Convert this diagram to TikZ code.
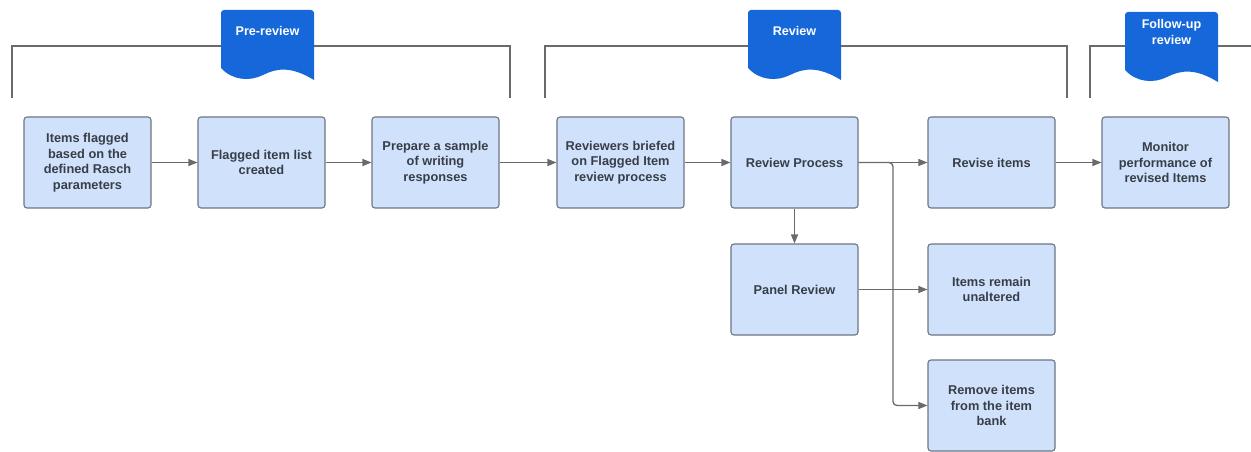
\documentclass[tikz,border=0pt]{standalone}
\usepackage{fontspec}
\setmainfont{Liberation Sans}
\usetikzlibrary{arrows.meta}
\definecolor{boxfill}{HTML}{D0E2FB}
\definecolor{boxdraw}{HTML}{6C7683}
\definecolor{txtcol}{HTML}{383E48}
\definecolor{bannerblue}{HTML}{1667D9}
\definecolor{linecol}{HTML}{6A6A6A}
\tikzset{
  stepbox/.style={draw=boxdraw, line width=1.1pt, fill=boxfill, rounded corners=3pt,
    minimum width=127pt, minimum height=91pt, align=center, text=txtcol,
    font=\fontsize{12.8pt}{15.5pt}\selectfont\bfseries, inner sep=2pt},
  arr/.style={draw=linecol, line width=1.3pt, -{Triangle[length=9pt,width=7pt]}},
  bracketline/.style={draw=linecol, line width=1.2pt},
  bannertxt/.style={text=white, align=center, font=\fontsize{12.6pt}{16pt}\selectfont\bfseries},
  docbanner/.pic={
    \fill[bannerblue] (0,58) [rounded corners=3pt] -- (0,0) -- (93,0) [sharp corners] -- (93,70)
      .. controls (70,56) and (56,58) .. (42,65)
      .. controls (28,72) and (11,70) .. (0,58) -- cycle;
  }
}
\begin{document}
\begin{tikzpicture}[x=1pt,y=-1pt]
\useasboundingbox (0,0) rectangle (1251,452);
\fill[white] (0,0) rectangle (1251,452);

% brackets
\draw[bracketline] (12,98) -- (12,46) -- (510,46) -- (510,98);
\draw[bracketline] (545,98) -- (545,46) -- (1067,46) -- (1067,98);
\draw[bracketline] (1090,98) -- (1090,46) -- (1251,46);

% banners
\pic at (221,10) {docbanner};
\node[bannertxt] (t1) at (267.5,31) {Pre-review};
\pic at (748,10) {docbanner};
\node[bannertxt] (t2) at (794.5,31) {Review};
\pic at (1125,12) {docbanner};
\node[bannertxt] (t3) at (1171.5,32) {Follow-up\\review};

% boxes
\node[stepbox] (b1) at (87.5,162.5) {Items flagged\\based on the\\defined Rasch\\parameters};
\node[stepbox] (b2) at (261.5,162.5) {Flagged item list\\created};
\node[stepbox] (b3) at (435.5,162.5) {Prepare a sample\\of writing\\responses};
\node[stepbox] (b4) at (620.5,162.5) {Reviewers briefed\\on Flagged Item\\review process};
\node[stepbox] (b5) at (794.5,162.5) {Review Process};
\node[stepbox] (b6) at (991.5,162.5) {Revise items};
\node[stepbox] (b7) at (1165.5,162.5) {Monitor\\performance of\\revised Items};
\node[stepbox] (p) at (794.5,289.5) {Panel Review};
\node[stepbox] (u) at (991.5,289.5) {Items remain\\unaltered};
\node[stepbox] (r) at (991.5,405.5) {Remove items\\from the item\\bank};

% connectors
\coordinate (j1) at (893,162.5);
\draw[arr] (b1) -- (b2);
\draw[arr] (b2) -- (b3);
\draw[arr] (b3) -- (b4);
\draw[arr] (b4) -- (b5);
\draw[arr] (b5) -- (b6);
\draw[arr] (b6) -- (b7);
\draw[arr] (b5) -- (p);
\draw[arr] (p) -- (u);
\draw[arr, rounded corners=4pt] (b5.east) -- (j1) |- (r.west);
\end{tikzpicture}
\end{document}
